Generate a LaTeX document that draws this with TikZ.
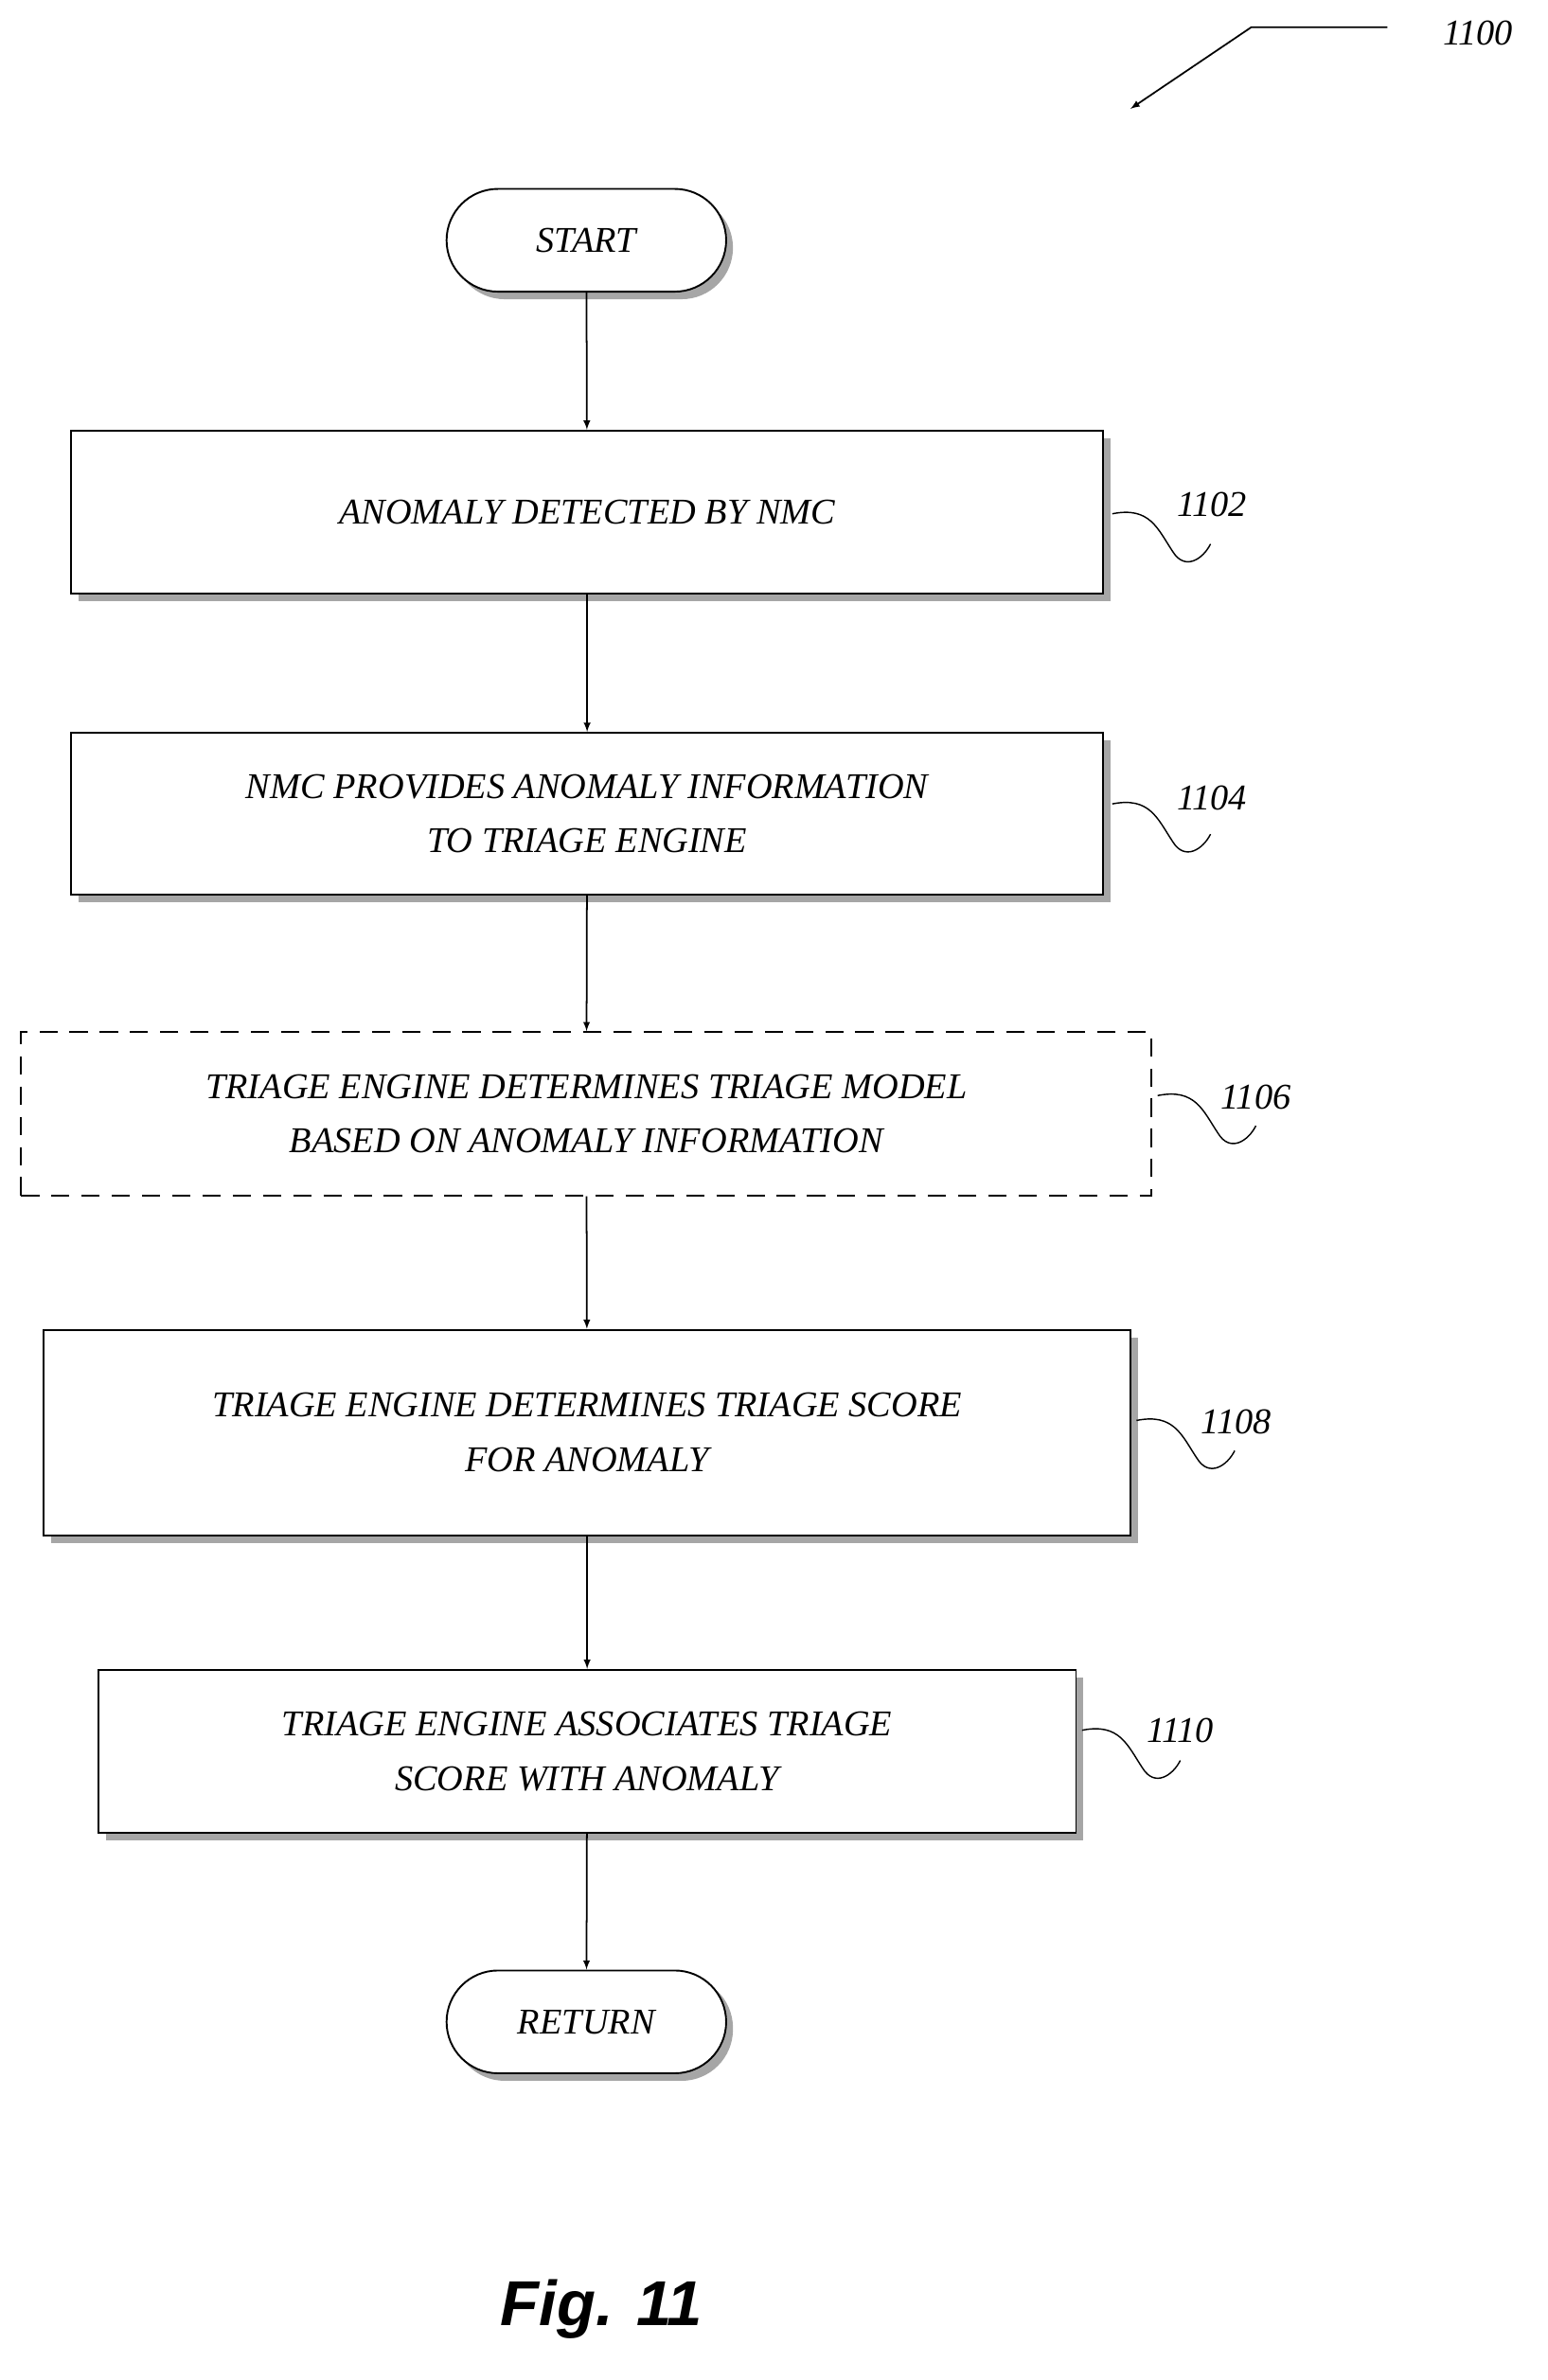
\documentclass[tikz,border=0pt]{standalone}
\usepackage{fontspec}
\setmainfont{Liberation Serif}
\setsansfont{Liberation Sans}
\begin{document}
\begin{tikzpicture}[x=1pt,y=-1pt,
  box/.style={draw,line width=1.2pt,fill=white,minimum height=108pt,align=center,font=\itshape\fontsize{24}{36}\selectfont,inner sep=0pt},
  term/.style={draw,line width=1.2pt,fill=white,rounded corners=34pt,minimum width=185pt,minimum height=68pt,font=\itshape\fontsize{24}{30}\selectfont},
  shad/.style={fill=gray!70},
  arr/.style={-latex,line width=1.1pt},
  lab/.style={font=\itshape\fontsize{24}{28}\selectfont}]
\useasboundingbox (0,0) rectangle (1024,1575);
\newcommand{\myshbox}[6]{%
  \fill[shad] (#2+5,#3+5) rectangle (#4+5,#5+5);
  \node[box,minimum width=#4-#2,minimum height=#5-#3] (#1) at ({(#2+#4)/2},{(#3+#5)/2}) {#6};}
\newcommand{\mysquig}[2]{%
  \draw[line width=0.9pt] (#1,#2) .. controls (#1+25,#2-5) and (#1+30,#2+10) .. (#1+40,#2+25) .. controls (#1+48,#2+38) and (#1+60,#2+30) .. (#1+65,#2+20);}
\fill[shad,rounded corners=34pt] (300,130) rectangle (485,198);
\node[term] (start) at (388,159) {START};
\myshbox{b1}{47}{285}{730}{393}{ANOMALY DETECTED BY NMC}
\myshbox{b2}{47}{485}{730}{592}{NMC PROVIDES ANOMALY INFORMATION\\TO TRIAGE ENGINE}
\node[box,dash pattern=on 12pt off 8pt,minimum width=748pt] (b3) at (388,737) {TRIAGE ENGINE DETERMINES TRIAGE MODEL\\BASED ON ANOMALY INFORMATION};
\myshbox{b4}{29}{880}{748}{1016}{TRIAGE ENGINE DETERMINES TRIAGE SCORE\\FOR ANOMALY}
\myshbox{b5}{65}{1105}{712}{1213}{TRIAGE ENGINE ASSOCIATES TRIAGE\\SCORE WITH ANOMALY}
\fill[shad,rounded corners=34pt] (300,1308) rectangle (485,1377);
\node[term] (ret) at (388,1338) {RETURN};
\draw[arr] (start) -- (b1);
\draw[arr] (b1) -- (b2);
\draw[arr] (b2) -- (b3);
\draw[arr] (b3) -- (b4);
\draw[arr] (b4) -- (b5);
\draw[arr] (b5) -- (ret);
\node[lab] (l1) at (802,334) {1102};
\node[lab] (l2) at (802,528) {1104};
\node[lab] (l3) at (831,726) {1106};
\node[lab] (l4) at (818,941) {1108};
\node[lab] (l5) at (781,1145) {1110};
\mysquig{736}{340}
\mysquig{736}{532}
\mysquig{766}{725}
\mysquig{752}{940}
\mysquig{716}{1145}
\node[lab] (l0) at (978,22) {1100};
\coordinate (a0) at (918,18);
\coordinate (a1) at (748,72);
\draw[-latex,line width=1.1pt] (a0) -- (828,18) -- (a1);
\node[font=\sffamily\bfseries\itshape\fontsize{42}{50}\selectfont] (fig) at (398,1528) {Fig. 11};
\end{tikzpicture}
\end{document}
